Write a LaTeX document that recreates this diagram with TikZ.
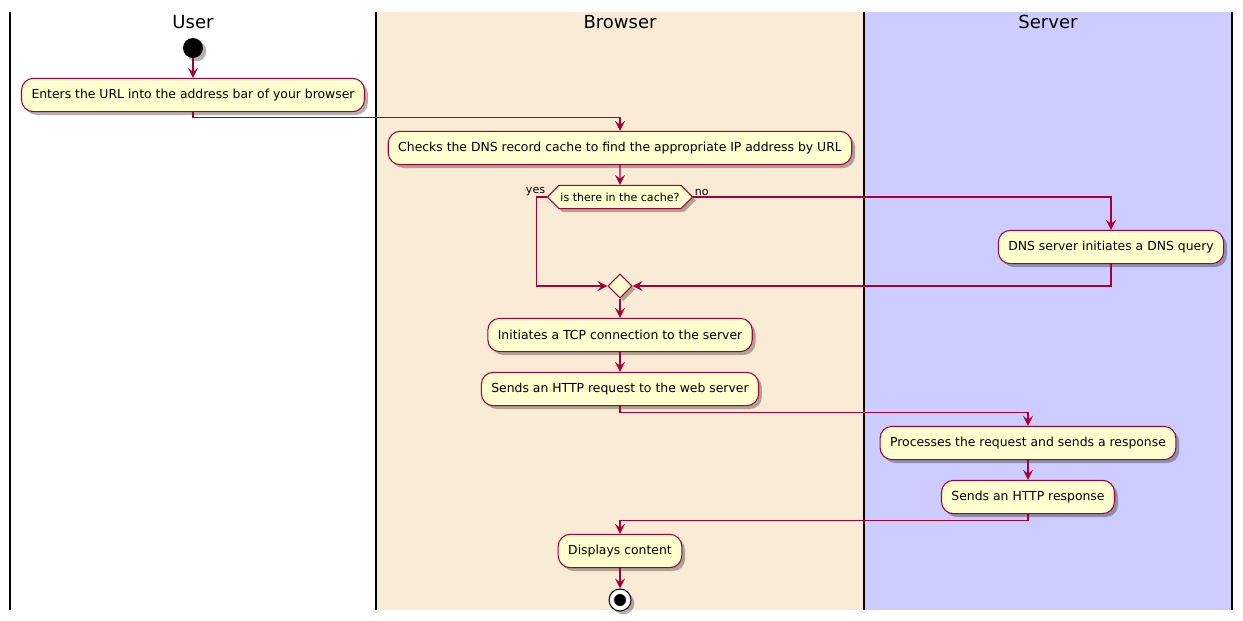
\documentclass[tikz,border=0pt]{standalone}
\usepackage{fontspec}
\setmainfont{DejaVu Sans}
\usepackage{xcolor}
\usetikzlibrary{arrows.meta,calc,positioning,shapes.geometric,shapes.symbols,shadows}
\definecolor{umlred}{HTML}{A80036}
\definecolor{actfill}{HTML}{FEFECE}
\definecolor{browserlane}{HTML}{FAEBD7}
\definecolor{serverlane}{HTML}{CCCCFF}

\begin{document}
\begin{tikzpicture}[
  x=0.75pt,y=-0.75pt,
  shade/.style={drop shadow={shadow xshift=2.5pt,shadow yshift=-2.5pt,opacity=.3,fill=black}},
  act/.style={draw=umlred,fill=actfill,line width=0.8pt,rounded corners=9pt,minimum height=25pt,inner xsep=7.5pt,font=\fontsize{9.3}{11}\selectfont,shade},
  choice/.style={signal,signal to=east and west,signal pointer angle=90,draw=umlred,fill=actfill,line width=0.8pt,minimum height=17.5pt,inner xsep=1pt,inner ysep=0pt,font=\fontsize{8.3}{10}\selectfont,shade},
  merge/.style={diamond,draw=umlred,fill=actfill,line width=0.8pt,minimum size=18pt,inner sep=0pt,shade},
  start/.style={circle,fill=black,minimum size=15pt,inner sep=0pt,shade},
  stop/.style={circle,draw=black,fill=white,line width=0.8pt,minimum size=16.5pt,inner sep=0pt,shade,
    path picture={\fill[black] (path picture bounding box.center) circle[radius=4.5pt];}},
  lane/.style={font=\fontsize{13.5}{15}\selectfont},
  lbl/.style={font=\fontsize{8.3}{10}\selectfont,inner sep=1pt},
  arrow/.style={-{Stealth[length=7.5pt,width=7.5pt,inset=3pt]},draw=umlred,line width=0.8pt}
]
\useasboundingbox (0,0) rectangle (1243,621);

% swimlanes
\fill[browserlane] (377,12) rectangle (864,610);
\fill[serverlane] (864,12) rectangle (1232,610);
\foreach \x in {10,376,864,1232}
  \draw[line width=1.5pt] (\x,12) -- (\x,610);
\node[lane] (user) at (193,22) {User};
\node[lane] (browser) at (620,22) {Browser};
\node[lane] (server) at (1048,22) {Server};

% activities
\node[start] (begin) at (193,48) {};
\node[act] (enter) at (193,95) {Enters the URL into the address bar of your browser};
\node[act] (checks) at (620,148) {Checks the DNS record cache to find the appropriate IP address by URL};
\node[choice] (cache) at (620,197) {is there in the cache?};
\node[lbl,anchor=south east] (yes) at (cache.west) {yes};
\node[lbl,anchor=south west] (no) at (cache.east) {no};
\node[act] (dns) at (1111,247) {DNS server initiates a DNS query};
\node[merge] (join) at (620,286) {};
\node[act] (tcp) at (620,335) {Initiates a TCP connection to the server};
\node[act] (request) at (620,389) {Sends an HTTP request to the web server};
\node[act] (process) at (1028,443) {Processes the request and sends a response};
\node[act] (response) at (1028,497) {Sends an HTTP response};
\node[act] (display) at (620,551) {Displays content};
\node[stop] (end) at (620,600) {};

% flow
\draw[arrow] (begin) -- (enter);
\draw[arrow] (enter.south) -- ++(0,5) -| (checks.north);
\draw[arrow] (checks) -- (cache);
\draw[arrow] (cache.west) -- ++(-10,0) |- (join.west);
\draw[arrow] (cache.east) -| (dns.north);
\draw[arrow] (dns.south) |- (join.east);
\draw[arrow] (join) -- (tcp);
\draw[arrow] (tcp) -- (request);
\draw[arrow] (request.south) -- ++(0,6) -| (process.north);
\draw[arrow] (process) -- (response);
\draw[arrow] (response.south) -- ++(0,6) -| (display.north);
\draw[arrow] (display) -- (end);
\end{tikzpicture}
\end{document}
